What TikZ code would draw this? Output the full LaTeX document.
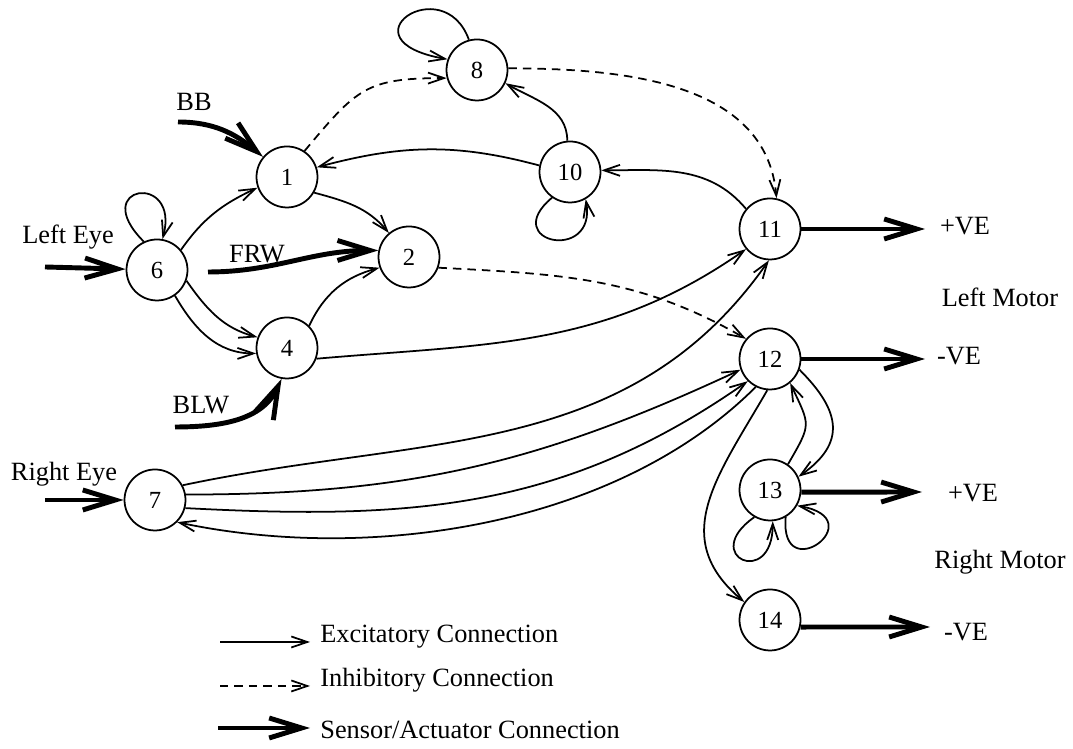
\documentclass[tikz,border=0pt]{standalone}
\usepackage{fontspec}
\setmainfont{Liberation Serif}
\usetikzlibrary{arrows.meta}

\tikzset{
  neuron/.style={circle,draw,line width=1pt,minimum size=1.22cm,inner sep=0pt,
    font=\fontsize{14}{16}\selectfont},
  exc/.style={line width=1pt,-{Straight Barb[length=3.2mm,width=2.2mm]}},
  inh/.style={exc,dash pattern=on 1.7mm off 1.2mm},
  sensor/.style={line width=2.8pt,-{Straight Barb[length=6.5mm,width=4mm]}},
  lbl/.style={font=\fontsize{15}{18}\selectfont,inner sep=0pt}
}

\begin{document}
\begin{tikzpicture}[x=0.02cm,y=0.02cm]
    \useasboundingbox (0,0) rectangle (1073,749);

    \node[neuron] (n1) at (287,572) {1};
    \node[neuron] (n2) at (409,492) {2};
    \node[neuron] (n4) at (287,401) {4};
    \node[neuron] (n6) at (157,479) {6};
    \node[neuron] (n7) at (155,249) {7};
    \node[neuron] (n8) at (477,679) {8};
    \node[neuron] (n10) at (570,577) {10};
    \node[neuron] (n11) at (770,520) {11};
    \node[neuron] (n12) at (770,390) {12};
    \node[neuron] (n13) at (770,259) {13};
    \node[neuron] (n14) at (770,129) {14};

    \node[lbl,anchor=base] (lefteye) at (68,505) {Left Eye};
    \node[lbl,anchor=base] (righteye) at (64,268) {Right Eye};
    \node[lbl,anchor=base] (bb) at (194,638) {BB};
    \node[lbl,anchor=base] (frw) at (257,486) {FRW};
    \node[lbl,anchor=base] (blw) at (201,335) {BLW};
    \node[lbl,anchor=base] (pve11) at (965,514) {+VE};
    \node[lbl,anchor=base] (lmotor) at (1000,442) {Left Motor};
    \node[lbl,anchor=base] (mve12) at (959,384) {-VE};
    \node[lbl,anchor=base] (pve13) at (973,247) {+VE};
    \node[lbl,anchor=base] (rmotor) at (1000,180) {Right Motor};
    \node[lbl,anchor=base] (mve14) at (966,108) {-VE};

    % sensors and motors
    \coordinate (leftin) at (45,482);
    \coordinate (rightin) at (45,249);
    \coordinate (bbin) at (178,627);
    \coordinate (frwin) at (208,477);
    \coordinate (blwin) at (175,322);
    \coordinate (out11) at (925,520);
    \coordinate (out12) at (925,390);
    \coordinate (out13) at (922,257);
    \coordinate (out14) at (930,122);

    \draw[sensor] (leftin) -- (n6);
    \draw[sensor] (rightin) -- (n7);
    \draw[sensor] (bbin) to[out=0,in=140] (n1.140);
    \draw[sensor] (frwin) to[out=0,in=180] (n2.168);
    \draw[sensor] (blwin) to[out=0,in=245] (n4.260);
    \draw[sensor] (n11) -- (out11);
    \draw[sensor] (n12) -- (out12);
    \draw[sensor] (n13.-4) -- (out13);
    \draw[sensor] (n14.-13) -- (out14);

    % excitatory
    \draw[exc] (n6.40) to[out=55,in=205] (n1.200);
    \draw[exc] (n1.-30) to[out=-15,in=130] (n2.130);
    \draw[exc] (n6.-20) to[out=-55,in=165] (n4.160);
    \draw[exc] (n6.-55) to[out=-60,in=180] (n4.190);
    \draw[exc] (n4.45) to[out=65,in=195] (n2.200);
    \draw[exc] (n6.115) .. controls +(135:80) and +(75:70) .. (n6.80);
    \draw[exc] (n10.168) to[out=165,in=15] (n1.18);
    \draw[exc] (n10.95) to[out=90,in=-30] (n8.-25);
    \draw[exc] (n10.235) .. controls +(220:70) and +(-80:65) .. (n10.-60);
    \draw[exc] (n8.105) .. controls +(110:75) and +(170:110) .. (n8.160);
    \draw[exc] (n11.140) to[out=130,in=0] (n10.3);
    \draw[exc] (n4.-20) to[out=5,in=215] (n11.220);
    \draw[exc] (n7.28) to[out=12,in=235] (n11.268);
    \draw[exc] (n7.10) to[out=0,in=205] (n12.200);
    \draw[exc] (n7.-15) to[out=-3,in=215] (n12.225);
    \draw[exc] (n12.243) to[out=225,in=-12,looseness=0.85] (n7.-45);
    \draw[exc] (n12.265) to[out=240,in=140,looseness=1.2] (n14.145);
    \draw[exc] (n13.55) to[out=60,in=-65,looseness=1.5] (n12.-50);
    \draw[exc] (n12.-20) to[out=-45,in=35,looseness=1.4] (n13.25);
    \draw[exc] (n13.240) .. controls +(215:68) and +(-90:68) .. (n13.275);
    \draw[exc] (n13.-60) .. controls +(-95:72) and +(-10:78) .. (n13.-30);

    % inhibitory
    \draw[inh] (n1.56) to[out=50,in=180,looseness=1.3] (n8.195);
    \draw[inh] (n8.3) to[out=0,in=95] (n11.78);
    \draw[inh] (n2.-20) to[out=-3,in=150] (n12.140);

    % legend
    \coordinate (exA) at (220,107);
    \coordinate (exB) at (310,107);
    \coordinate (inA) at (220,63);
    \coordinate (inB) at (310,63);
    \coordinate (seA) at (218,21);
    \coordinate (seB) at (310,21);
    \draw[exc] (exA) -- (exB);
    \draw[inh] (inA) -- (inB);
    \draw[sensor] (seA) -- (seB);
    \node[lbl,anchor=base west] (extext) at (320,106) {Excitatory Connection};
    \node[lbl,anchor=base west] (intext) at (320,62) {Inhibitory Connection};
    \node[lbl,anchor=base west] (setext) at (320,10) {Sensor/Actuator Connection};
\end{tikzpicture}
\end{document}
